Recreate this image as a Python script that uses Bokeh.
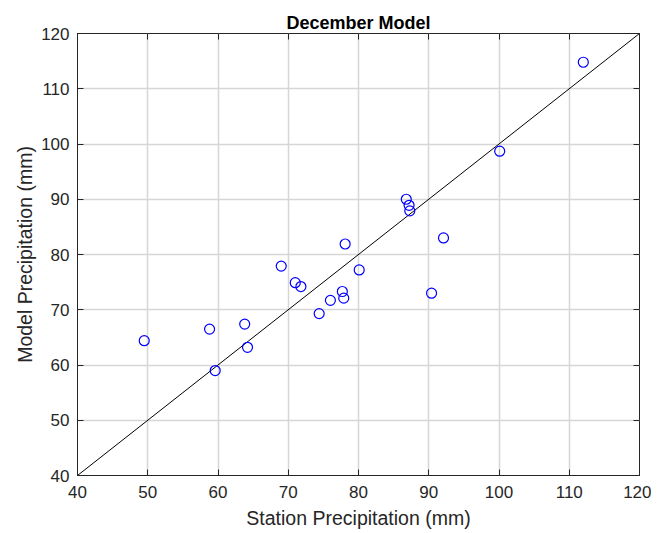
from bokeh.plotting import figure
from bokeh.models import LinearAxis, Range1d, FixedTicker
from bokeh.embed import file_html
from bokeh.resources import INLINE

station = [49.5, 58.8, 59.6, 63.8, 64.2, 69.0, 71.0, 71.8, 74.4, 76.0, 77.7, 77.9, 78.1, 80.1,
           86.8, 87.2, 87.3, 90.4, 92.1, 100.1, 112.0]
model = [64.4, 66.5, 59.0, 67.4, 63.2, 77.9, 74.9, 74.2, 69.3, 71.7, 73.3, 72.1, 81.9, 77.2,
         90.0, 88.9, 87.9, 73.0, 83.0, 98.7, 114.8]
diag = [40, 120]
ticks = [40, 50, 60, 70, 80, 90, 100, 110, 120]

FONT = "Liberation Sans"
TXT = "#262626"

p = figure(width=651, height=532, frame_width=562, frame_height=442,
           x_range=Range1d(40, 120), y_range=Range1d(40, 120),
           output_backend="svg", toolbar_location=None,
           min_border_left=77, min_border_top=33, min_border_right=12, min_border_bottom=57,
           title="December Model")
p.title.align = "center"
p.title.text_font = FONT
p.title.text_font_size = "18px"
p.title.text_font_style = "bold"
p.title.text_color = "#000000"
p.title.standoff = 2

p.outline_line_color = TXT
p.outline_line_width = 1

for ax in [p.xaxis[0], p.yaxis[0]]:
    ax.ticker = FixedTicker(ticks=ticks)
    ax.major_tick_in = 6
    ax.major_tick_out = 0
    ax.minor_tick_in = 0
    ax.minor_tick_out = 0
    ax.axis_line_color = TXT
    ax.major_tick_line_color = TXT
    ax.major_label_text_font = FONT
    ax.major_label_text_font_size = "17px"
    ax.major_label_text_color = TXT
    ax.axis_label_text_font = FONT
    ax.axis_label_text_font_size = "19.5px"
    ax.axis_label_text_font_style = "normal"
    ax.axis_label_text_color = TXT

p.xaxis[0].axis_label = "Station Precipitation (mm)"
p.yaxis[0].axis_label = "Model Precipitation (mm)"
p.xaxis[0].major_label_standoff = 10
p.yaxis[0].major_label_standoff = 8
p.xaxis[0].axis_label_standoff = 6
p.yaxis[0].axis_label_standoff = 2

for loc in ["above", "right"]:
    a = LinearAxis(ticker=FixedTicker(ticks=ticks), major_tick_in=6, major_tick_out=0,
                   minor_tick_in=0, minor_tick_out=0, axis_line_color=None,
                   major_tick_line_color=TXT, major_label_text_color=None,
                   major_label_text_font_size="1px", major_label_standoff=0)
    p.add_layout(a, loc)

p.xgrid.ticker = FixedTicker(ticks=ticks)
p.ygrid.ticker = FixedTicker(ticks=ticks)
p.grid.grid_line_color = "#d6d6d6"
p.grid.grid_line_width = 1.5

p.line(diag, diag, line_color="black", line_width=1)
p.scatter(station, model, size=10, marker="circle", fill_color=None,
          line_color="#0000ff", line_width=1.2)

open("out.html", "w").write(file_html(p, INLINE))
